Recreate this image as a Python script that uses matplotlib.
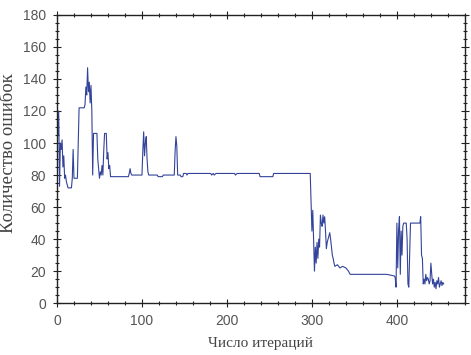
import matplotlib
matplotlib.use("Agg")
from matplotlib import pyplot as plt
from matplotlib.ticker import MultipleLocator

# точки ломаной: номер итерации -> количество ошибок
iters = [0, 1, 2, 3, 4, 5, 6, 7, 8, 9, 10, 11, 12, 13, 17, 18, 19, 20, 24, 25,
         26, 32, 33, 34, 35, 36, 37, 38, 39, 40, 41, 42, 43, 47, 48, 49, 50, 51, 52, 53,
         54, 55, 56, 58, 59, 60, 61, 62, 63, 84, 85, 86, 87, 88, 100, 101, 102, 103, 104, 105,
         106, 107, 108, 118, 119, 124, 125, 138, 139, 140, 141, 142, 145, 146, 148, 149, 152, 153, 154, 181,
         182, 184, 185, 187, 209, 210, 212, 238, 239, 254, 255, 298, 299, 300, 301, 302, 303, 304, 305, 306,
         307, 308, 309, 310, 311, 312, 313, 314, 315, 316, 317, 318, 319, 320, 321, 322, 323, 324, 325, 326,
         327, 330, 333, 336, 340, 343, 345, 388, 397, 398, 399, 400, 401, 402, 403, 404, 405, 406, 407, 408,
         411, 412, 413, 414, 415, 416, 427, 428, 429, 430, 431, 432, 433, 434, 435, 436, 437, 438, 439, 440,
         441, 442, 443, 444, 445, 446, 447, 448, 449, 450, 451, 452, 453, 454, 455]
errors = [118, 105, 120, 73, 100, 96, 102, 85, 92, 78, 80, 76, 74, 72, 72, 78, 96, 78, 78, 100,
          122, 122, 124, 135, 130, 147, 132, 138, 125, 136, 120, 80, 106, 106, 90, 84, 78, 82, 80, 86,
          80, 95, 106, 106, 90, 94, 84, 86, 79, 79, 81, 84, 81, 80, 80, 95, 107, 92, 100, 104,
          90, 82, 80, 80, 79, 79, 80, 80, 95, 104, 98, 80, 80, 79, 79, 81, 81, 80, 81, 81,
          80, 81, 80, 81, 81, 80, 81, 81, 79, 79, 81, 81, 62, 45, 58, 40, 20, 35, 25, 38,
          28, 40, 35, 55, 50, 48, 55, 50, 54, 45, 34, 38, 40, 42, 44, 40, 35, 30, 28, 25,
          23, 24, 22, 23, 22, 20, 18, 18, 17, 16, 10, 50, 22, 46, 54, 18, 45, 30, 48, 50,
          50, 40, 12, 10, 30, 50, 50, 54, 30, 28, 12, 15, 12, 18, 14, 16, 15, 12, 14, 25,
          18, 12, 15, 10, 13, 9, 14, 12, 16, 10, 12, 14, 11, 13, 12]

plt.rcParams["font.family"] = ["Liberation Sans", "DejaVu Sans"]
fig = plt.figure(figsize=(4.71, 3.55), dpi=100)
ax = fig.add_axes([0.121, 0.146, 0.866, 0.812])

ax.plot(iters, errors, color="#33439a", linewidth=0.8)

ax.set_xlim(0, 480)
ax.set_ylim(0, 180)
ax.xaxis.set_major_locator(MultipleLocator(100))
ax.xaxis.set_minor_locator(MultipleLocator(20))
ax.yaxis.set_major_locator(MultipleLocator(20))
ax.yaxis.set_minor_locator(MultipleLocator(5))

ax.tick_params(which="both", direction="inout", top=True, right=True,
               colors="#222222", labelcolor="#555555", labelsize=10, width=0.8)
ax.tick_params(which="major", length=6, pad=5)
ax.tick_params(which="minor", length=3.5)
for s in ax.spines.values():
    s.set_linewidth(1.0)
    s.set_color("#222222")

ax.set_xlabel("Число итераций", family=["Liberation Serif", "DejaVu Serif"],
              fontsize=11, color="#444444", labelpad=6)
ax.set_ylabel("Количество ошибок", family=["Liberation Serif", "DejaVu Serif"],
              fontsize=13.5, color="#444444")
ax.yaxis.set_label_coords(-0.097, 0.52)

plt.savefig("out.png", dpi=100)
